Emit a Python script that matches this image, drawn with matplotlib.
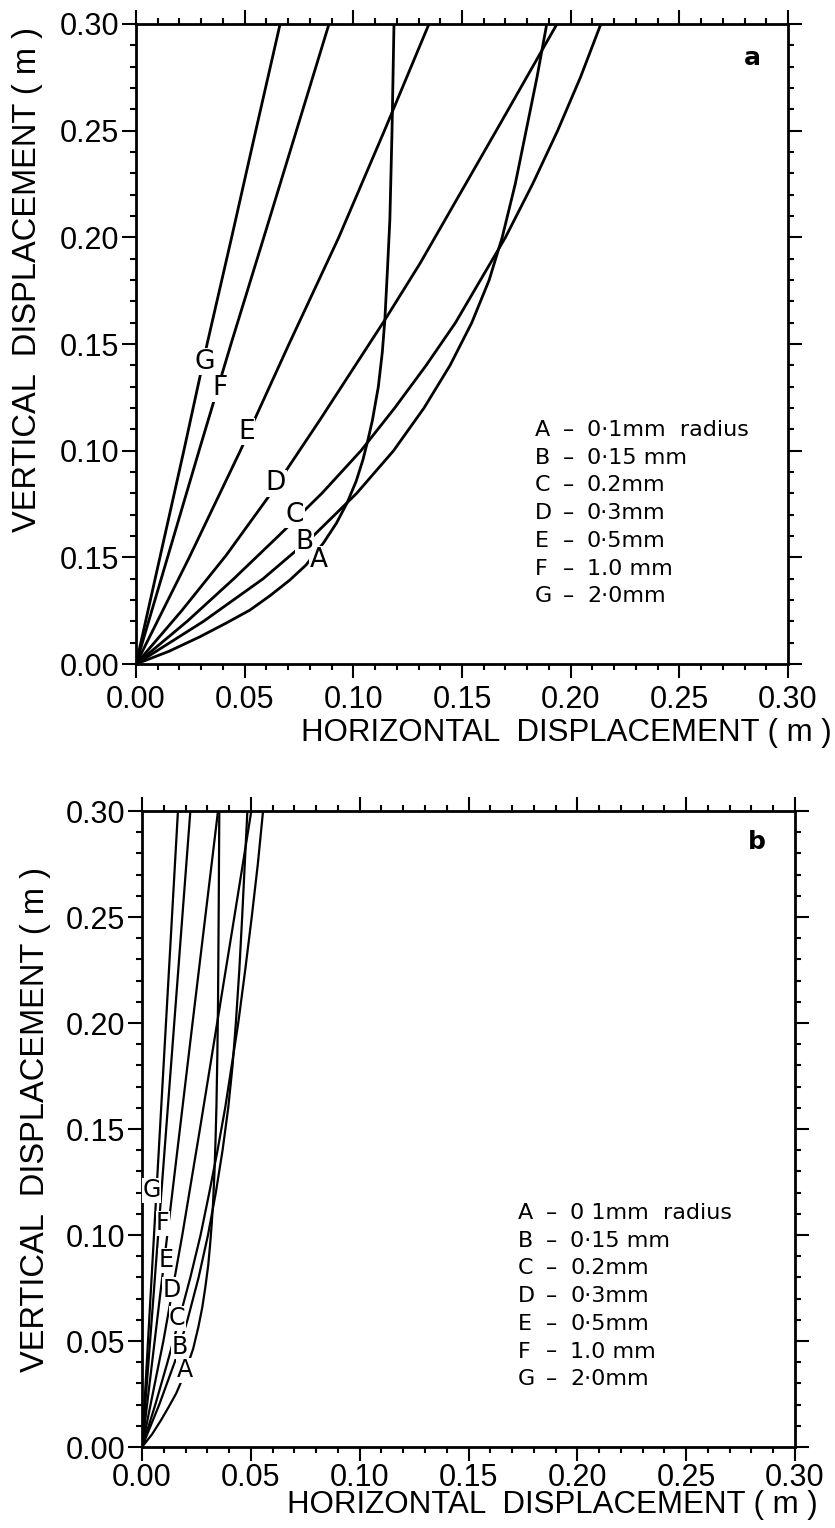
import numpy as np
import matplotlib.pyplot as plt
from matplotlib.ticker import MultipleLocator, FixedLocator, FixedFormatter

plt.rcParams['font.family'] = ['Liberation Sans', 'DejaVu Sans']

# ---- panel a: curves (x = horizontal, y = vertical, m)
a_A_y = [0, 0.006, 0.0128, 0.019, 0.0253, 0.032, 0.0394, 0.0464, 0.0567, 0.066, 0.0755,
         0.0857, 0.0957, 0.105, 0.1144, 0.13, 0.1459, 0.1613, 0.185, 0.2082, 0.25, 0.30]
a_A_x = [0, 0.0152, 0.0294, 0.0411, 0.0524, 0.0616, 0.0708, 0.0782, 0.0862, 0.0922, 0.0971,
         0.1013, 0.1044, 0.1067, 0.1088, 0.1115, 0.1133, 0.1145, 0.1157, 0.1168, 0.1178, 0.1187]
a_B_y = [0, 0.02, 0.04, 0.06, 0.08, 0.10, 0.12, 0.14, 0.16, 0.18, 0.20, 0.225, 0.25, 0.275, 0.30]
a_B_x = [0, 0.031, 0.0585, 0.0815, 0.1015, 0.1185, 0.1325, 0.1445, 0.1545, 0.1625, 0.1685,
         0.1745, 0.1795, 0.1845, 0.189]
a_C_y = [0, 0.02, 0.04, 0.06, 0.08, 0.10, 0.12, 0.14, 0.16, 0.18, 0.20, 0.225, 0.25, 0.275, 0.30]
a_C_x = [0, 0.0235, 0.045, 0.0655, 0.0855, 0.1035, 0.119, 0.1335, 0.147, 0.1585, 0.17,
         0.1825, 0.194, 0.2045, 0.2139]
a_D_y = [0, 0.025, 0.051, 0.0793, 0.1144, 0.1613, 0.1878, 0.2082, 0.254, 0.30]
a_D_x = [0, 0.021, 0.0415, 0.0616, 0.0846, 0.1145, 0.1307, 0.1422, 0.168, 0.1937]
a_E_y = [0, 0.05, 0.10, 0.15, 0.20, 0.25, 0.30]
a_E_x = [0, 0.0245, 0.048, 0.0704, 0.0933, 0.1143, 0.1348]
a_F_y = [0, 0.05, 0.10, 0.15, 0.20, 0.25, 0.30]
a_F_x = [0, 0.0145, 0.029, 0.0437, 0.0588, 0.0738, 0.0888]
a_G_y = [0, 0.05, 0.10, 0.15, 0.20, 0.25, 0.30]
a_G_x = [0, 0.011, 0.022, 0.0327, 0.044, 0.0551, 0.0663]

# ---- panel b
b_A_y = [0, 0.006, 0.0128, 0.019, 0.0253, 0.032, 0.0394, 0.0464, 0.0567, 0.066, 0.0755,
         0.0857, 0.0957, 0.105, 0.1144, 0.13, 0.1459, 0.1613, 0.185, 0.2082, 0.25, 0.30]
b_A_x = [0, 0.0046, 0.0088, 0.0123, 0.0157, 0.0185, 0.0212, 0.0235, 0.0259, 0.0277, 0.0291,
         0.0304, 0.0313, 0.032, 0.0326, 0.0333, 0.0338, 0.0342, 0.0346, 0.0349, 0.0352, 0.0355]
b_B_y = [0, 0.02, 0.04, 0.06, 0.08, 0.10, 0.12, 0.14, 0.16, 0.18, 0.20, 0.225, 0.25, 0.275, 0.30]
b_B_x = [0, 0.0079, 0.015, 0.0209, 0.026, 0.0303, 0.0339, 0.037, 0.0396, 0.0416, 0.0431,
         0.0447, 0.046, 0.0472, 0.0484]
b_C_y = [0, 0.02, 0.04, 0.06, 0.08, 0.10, 0.12, 0.14, 0.16, 0.18, 0.20, 0.225, 0.25, 0.275, 0.30]
b_C_x = [0, 0.0061, 0.0117, 0.017, 0.0222, 0.0269, 0.0309, 0.0347, 0.0382, 0.0412, 0.0442,
         0.0474, 0.0504, 0.0532, 0.0556]
b_D_y = [0, 0.05, 0.10, 0.15, 0.20, 0.25, 0.30]
b_D_x = [0, 0.0098, 0.0185, 0.0266, 0.0345, 0.0424, 0.0502]
b_E_y = [0, 0.10, 0.20, 0.30]
b_E_x = [0, 0.0116, 0.0232, 0.0349]
b_F_y = [0, 0.10, 0.20, 0.30]
b_F_x = [0, 0.0074, 0.0148, 0.0222]
b_G_y = [0, 0.10, 0.20, 0.30]
b_G_x = [0, 0.0055, 0.011, 0.0165]

curve_names = ['A', 'B', 'C', 'D', 'E', 'F', 'G']
# label spots on the curves
a_lab_x = [0.0839, 0.0777, 0.0731, 0.0644, 0.0509, 0.0387, 0.0317]
a_lab_y = [0.0488, 0.0574, 0.0699, 0.0848, 0.109, 0.1293, 0.1417]
b_lab_x = [0.0196, 0.0173, 0.0162, 0.0135, 0.0112, 0.0096, 0.0043]
b_lab_y = [0.0363, 0.0473, 0.0607, 0.0741, 0.0882, 0.1055, 0.1212]

legend_vals_a = ['0·1mm  radius', '0·15 mm', '0.2mm', '0·3mm', '0·5mm', '1.0 mm', '2·0mm']
legend_vals_b = ['0 1mm  radius', '0·15 mm', '0.2mm', '0·3mm', '0·5mm', '1.0 mm', '2·0mm']

xticks = [0.0, 0.05, 0.10, 0.15, 0.20, 0.25, 0.30]
xtick_labels = ['0.00', '0.05', '0.10', '0.15', '0.20', '0.25', '0.30']
ytick_labels_a = ['0.00', '0.15', '0.10', '0.15', '0.20', '0.25', '0.30']
ytick_labels_b = ['0.00', '0.05', '0.10', '0.15', '0.20', '0.25', '0.30']

fig = plt.figure(figsize=(8.35, 15.28), dpi=100)
ax_a = fig.add_axes([0.1629, 0.5654, 0.7808, 0.4189])
ax_b = fig.add_axes([0.1701, 0.0530, 0.7820, 0.4162])


def setup(ax, ylabels, xpad):
    ax.set_xlim(0, 0.30)
    ax.set_ylim(0, 0.30)
    ax.xaxis.set_major_locator(FixedLocator(xticks))
    ax.xaxis.set_major_formatter(FixedFormatter(xtick_labels))
    ax.yaxis.set_major_locator(FixedLocator(xticks))
    ax.yaxis.set_major_formatter(FixedFormatter(ylabels))
    ax.xaxis.set_minor_locator(MultipleLocator(0.01))
    ax.yaxis.set_minor_locator(MultipleLocator(0.01))
    ax.tick_params(which='both', direction='out', top=True, right=True, width=1.5)
    ax.tick_params(which='major', length=10)
    ax.tick_params(which='minor', length=4)
    ax.tick_params(axis='x', which='major', labelsize=22, pad=xpad)
    ax.tick_params(axis='y', which='major', labelsize=22, pad=2)
    for s in ax.spines.values():
        s.set_linewidth(2)


def draw(ax, xs, ys, lab_x, lab_y, lw, fs):
    for x, y in zip(xs, ys):
        ax.plot(x, y, color='black', lw=lw, solid_capstyle='round')
    for name, lx, ly in zip(curve_names, lab_x, lab_y):
        ax.text(lx, ly, name, fontsize=fs, ha='center', va='center', zorder=5,
                family='DejaVu Sans',
                bbox=dict(facecolor='white', edgecolor='none', pad=0.3))


setup(ax_a, ytick_labels_a, 5)
draw(ax_a, [a_A_x, a_B_x, a_C_x, a_D_x, a_E_x, a_F_x, a_G_x],
     [a_A_y, a_B_y, a_C_y, a_D_y, a_E_y, a_F_y, a_G_y], a_lab_x, a_lab_y, 2.0, 19)
setup(ax_b, ytick_labels_b, 1.5)
draw(ax_b, [b_A_x, b_B_x, b_C_x, b_D_x, b_E_x, b_F_x, b_G_x],
     [b_A_y, b_B_y, b_C_y, b_D_y, b_E_y, b_F_y, b_G_y], b_lab_x, b_lab_y, 1.6, 17)

# key text, figure pixel positions converted to fractions
W, H = 835.0, 1528.0
for i, name in enumerate(curve_names):
    ya = 1 - (430 + 27.7 * i) / H
    yb = 1 - (1213 + 27.7 * i) / H
    for xl, xd, xv, yy, vals in [(535, 563, 587, ya, legend_vals_a),
                                 (518, 546, 570, yb, legend_vals_b)]:
        fig.text(xl / W, yy, name, fontsize=16, va='center', family='DejaVu Sans')
        fig.text(xd / W, yy, '–', fontsize=16, va='center', family='DejaVu Sans')
        fig.text(xv / W, yy, vals[i], fontsize=16, va='center', family='DejaVu Sans')

fig.text(752 / W, 1 - 58 / H, 'a', fontsize=18, fontweight='bold', ha='center', va='center',
         family='DejaVu Sans')
fig.text(757 / W, 1 - 842 / H, 'b', fontsize=18, fontweight='bold', ha='center', va='center',
         family='DejaVu Sans')

fig.text(28 / W, 1 - 280 / H, 'VERTICAL  DISPLACEMENT ( m )', rotation=90, fontsize=23.5,
         ha='center', va='center')
fig.text(36 / W, 1 - 1120 / H, 'VERTICAL  DISPLACEMENT ( m )', rotation=90, fontsize=23.5,
         ha='center', va='center')
fig.text(832 / W, 1 - 733 / H, 'HORIZONTAL  DISPLACEMENT ( m )', fontsize=22.5,
         ha='right', va='center')
fig.text(818 / W, 1 - 1505 / H, 'HORIZONTAL  DISPLACEMENT ( m )', fontsize=22.5,
         ha='right', va='center')

fig.savefig('out.png', dpi=100)
